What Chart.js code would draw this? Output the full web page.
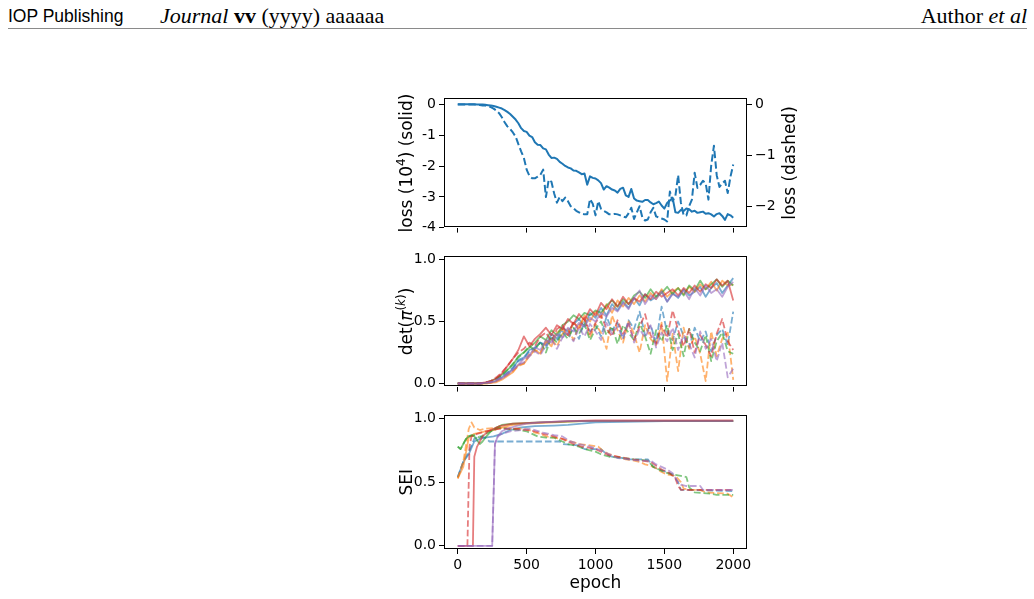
<!DOCTYPE html>
<html>
<head>
<meta charset="utf-8">
<script src="https://cdn.jsdelivr.net/npm/chart.js@4.4.0/dist/chart.umd.min.js"></script>
<style>
  body { margin: 0; width: 1034px; height: 599px; overflow: hidden; background: #fff; position: relative; }
  .hdr { position: absolute; top: 3px; line-height: 26px; white-space: nowrap; color: #000; }
  #h1 { left: 8px; font-family: "Liberation Sans", Arial, sans-serif; font-size: 17.5px; }
  #h2 { left: 160px; font-family: "Liberation Serif", serif; font-size: 22px; }
  #h3 { right: 7px; font-family: "Liberation Serif", serif; font-size: 22px; }
  #rule { position: absolute; left: 8px; right: 7px; top: 28px; height: 1px; background: #8a8a8a; }
  canvas { position: absolute; left: 0; }
</style>
</head>
<body>
<div class="hdr" id="h1">IOP Publishing</div>
<div class="hdr" id="h2"><i>Journal</i> <b>vv</b> (yyyy) aaaaaa</div>
<div class="hdr" id="h3">Author <i>et al</i></div>
<div id="rule"></div>
<canvas id="lossChart" width="1034" height="152" style="top:87px"></canvas>
<canvas id="detChart" width="1034" height="153" style="top:245px"></canvas>
<canvas id="seiChart" width="1034" height="193" style="top:404px"></canvas>
<script>
// tick labels
var epochTicks = [0, 500, 1000, 1500, 2000];
var lossSolidTicks = [0, -1, -2, -3, -4];
var lossDashedTicks = [0, -1, -2];
var unitTicks = [0, 0.5, 1.0];

// top panel: loss, every 20 epochs
var lossEpochs = [];
for (var e = 0; e <= 2000; e += 20) lossEpochs.push(e);

var lossSolid = [0.02, 0.02, 0.02, 0.02, 0.02, 0.02, 0.02, 0.01, 0.01, 0.01,
  0.0, -0.01, -0.02, -0.04, -0.06, -0.09, -0.12, -0.17, -0.23, -0.30,
  -0.39, -0.48, -0.60, -0.76, -0.85, -0.88, -1.0, -1.05, -1.22, -1.30,
  -1.31, -1.42, -1.45, -1.62, -1.73, -1.72, -1.76, -1.86, -1.92, -1.99,
  -2.04, -2.07, -2.14, -2.15, -2.20, -2.26, -2.24, -2.60, -2.33, -2.38,
  -2.40, -2.46, -2.55, -2.76, -2.65, -2.70, -2.76, -2.79, -2.86, -2.74,
  -2.70, -2.95, -3.0, -2.74, -3.05, -3.12, -3.14, -3.16, -3.10, -3.10,
  -3.18, -3.24, -3.20, -3.15, -3.28, -3.38, -3.20, -3.12, -3.03, -3.50,
  -3.52, -3.42, -3.46, -3.38, -3.40, -3.48, -3.45, -3.52, -3.50, -3.48,
  -3.55, -3.53, -3.57, -3.64, -3.56, -3.53, -3.62, -3.75, -3.56, -3.60, -3.68];

var lossDashed = [0.0, 0.0, 0.0, 0.0, 0.0, 0.0, 0.0, -0.01, -0.01, -0.02,
  -0.02, -0.03, -0.05, -0.08, -0.12, -0.17, -0.25, -0.35, -0.43, -0.48,
  -0.55, -0.63, -0.78, -0.92, -1.05, -1.28, -1.40, -1.45, -1.45, -1.42,
  -1.38, -1.28, -1.82, -1.48, -1.52, -1.75, -1.93, -1.82, -1.90, -1.83,
  -1.90, -2.0, -2.04, -2.09, -2.12, -2.15, -2.16, -2.16, -1.86, -1.95,
  -2.18, -1.90, -2.05, -2.09, -2.12, -2.16, -2.16, -2.15, -2.16, -2.18,
  -2.20, -2.22, -2.14, -2.03, -2.25, -2.12, -2.0, -2.22, -2.28, -2.26,
  -2.12, -2.03, -2.20, -2.22, -2.24, -2.26, -2.30, -1.71, -1.90, -1.80,
  -1.39, -1.93, -2.18, -2.18, -2.0, -1.87, -1.34, -1.64, -1.58, -1.50,
  -1.55, -1.87, -1.20, -0.81, -1.39, -1.62, -1.55, -1.50, -1.74, -1.42, -1.18];

// middle panel: det, every 40 epochs
var detEpochs = [];
for (var e2 = 0; e2 <= 2000; e2 += 40) detEpochs.push(e2);

var detSolid = [
  [0, 0, 0, 0, 0, 0.005, 0.01, 0.02, 0.05, 0.08, 0.12, 0.19, 0.21, 0.27, 0.29, 0.33, 0.31, 0.40, 0.36, 0.45,
   0.42, 0.48, 0.52, 0.46, 0.57, 0.53, 0.61, 0.55, 0.64, 0.59, 0.66, 0.61, 0.69, 0.63, 0.72, 0.67, 0.70, 0.75,
   0.66, 0.73, 0.69, 0.76, 0.71, 0.74, 0.78, 0.70, 0.77, 0.81, 0.73, 0.79, 0.85],
  [0, 0, 0, 0, 0, 0, 0.005, 0.01, 0.03, 0.06, 0.09, 0.15, 0.16, 0.22, 0.27, 0.24, 0.35, 0.30, 0.41, 0.44,
   0.39, 0.49, 0.45, 0.55, 0.50, 0.58, 0.53, 0.64, 0.57, 0.67, 0.62, 0.69, 0.64, 0.71, 0.66, 0.73, 0.68, 0.76,
   0.70, 0.74, 0.77, 0.72, 0.78, 0.74, 0.80, 0.76, 0.82, 0.75, 0.83, 0.79, 0.80],
  [0, 0, 0, 0, 0, 0.005, 0.02, 0.04, 0.07, 0.11, 0.15, 0.22, 0.25, 0.29, 0.33, 0.38, 0.35, 0.43, 0.39, 0.47,
   0.50, 0.55, 0.52, 0.57, 0.55, 0.59, 0.57, 0.63, 0.67, 0.62, 0.68, 0.64, 0.71, 0.74, 0.69, 0.76, 0.70, 0.73,
   0.78, 0.72, 0.77, 0.71, 0.79, 0.75, 0.83, 0.76, 0.80, 0.84, 0.78, 0.83, 0.79],
  [0, 0, 0, 0, 0, 0.01, 0.02, 0.04, 0.08, 0.14, 0.20, 0.27, 0.38, 0.30, 0.36, 0.40, 0.45, 0.39, 0.47, 0.44,
   0.52, 0.48, 0.56, 0.51, 0.60, 0.55, 0.65, 0.60, 0.68, 0.62, 0.70, 0.64, 0.69, 0.66, 0.72, 0.68, 0.74, 0.70,
   0.73, 0.76, 0.71, 0.77, 0.73, 0.79, 0.74, 0.80, 0.77, 0.84, 0.79, 0.83, 0.67],
  [0, 0, 0, 0, 0, 0.005, 0.01, 0.02, 0.04, 0.07, 0.11, 0.15, 0.20, 0.23, 0.29, 0.27, 0.35, 0.33, 0.40, 0.37,
   0.45, 0.42, 0.49, 0.46, 0.53, 0.50, 0.57, 0.54, 0.61, 0.58, 0.65, 0.60, 0.69, 0.75, 0.64, 0.71, 0.68, 0.74,
   0.66, 0.72, 0.70, 0.75, 0.68, 0.77, 0.71, 0.79, 0.73, 0.76, 0.70, 0.78, 0.82]
];
var detDashed = [
  [0, 0, 0, 0, 0, 0.005, 0.01, 0.03, 0.06, 0.09, 0.13, 0.18, 0.20, 0.26, 0.28, 0.33, 0.29, 0.37, 0.34, 0.42,
   0.38, 0.45, 0.36, 0.50, 0.42, 0.47, 0.38, 0.54, 0.43, 0.49, 0.36, 0.51, 0.44, 0.58, 0.39, 0.47, 0.33, 0.62,
   0.41, 0.35, 0.50, 0.38, 0.29, 0.45, 0.34, 0.42, 0.26, 0.39, 0.44, 0.31, 0.58],
  [0, 0, 0, 0, 0, 0, 0.005, 0.02, 0.04, 0.07, 0.10, 0.14, 0.16, 0.24, 0.27, 0.25, 0.33, 0.36, 0.30, 0.40,
   0.44, 0.35, 0.47, 0.52, 0.37, 0.48, 0.41, 0.28, 0.55, 0.43, 0.33, 0.50, 0.40, 0.25, 0.47, 0.36, 0.31, 0.49,
   0.02, 0.40, 0.10, 0.45, 0.28, 0.38, 0.24, 0.02, 0.42, 0.22, 0.36, 0.41, 0.03],
  [0, 0, 0, 0, 0, 0.005, 0.02, 0.04, 0.07, 0.11, 0.16, 0.21, 0.25, 0.30, 0.27, 0.34, 0.25, 0.38, 0.33, 0.41,
   0.36, 0.45, 0.40, 0.48, 0.35, 0.44, 0.50, 0.39, 0.46, 0.32, 0.47, 0.41, 0.35, 0.49, 0.38, 0.24, 0.43, 0.34,
   0.47, 0.27, 0.40, 0.22, 0.44, 0.33, 0.26, 0.39, 0.18, 0.34, 0.41, 0.26, 0.24],
  [0, 0, 0, 0, 0, 0.01, 0.02, 0.05, 0.09, 0.14, 0.20, 0.25, 0.28, 0.33, 0.30, 0.38, 0.41, 0.34, 0.44, 0.47,
   0.39, 0.50, 0.43, 0.53, 0.40, 0.49, 0.55, 0.44, 0.38, 0.51, 0.40, 0.48, 0.35, 0.46, 0.56, 0.39, 0.32, 0.47,
   0.37, 0.59, 0.43, 0.30, 0.44, 0.25, 0.39, 0.31, 0.22, 0.40, 0.52, 0.34, 0.27],
  [0, 0, 0, 0, 0, 0.005, 0.01, 0.03, 0.05, 0.08, 0.11, 0.15, 0.17, 0.22, 0.26, 0.23, 0.31, 0.36, 0.28, 0.37,
   0.41, 0.34, 0.45, 0.38, 0.48, 0.42, 0.35, 0.49, 0.40, 0.46, 0.36, 0.50, 0.33, 0.44, 0.37, 0.47, 0.29, 0.41,
   0.34, 0.45, 0.27, 0.39, 0.32, 0.21, 0.42, 0.28, 0.36, 0.18, 0.33, 0.05, 0.12]
];

// bottom panel: SEI, [epoch, value] corners of each curve
var seiSolid = [
  [[0, 0.54], [40, 0.66], [80, 0.72], [120, 0.82], [160, 0.84], [200, 0.85], [260, 0.86], [320, 0.88], [380, 0.91],
   [460, 0.93], [560, 0.94], [700, 0.945], [800, 0.95], [900, 0.96], [1000, 0.97], [1200, 0.975], [1500, 0.98], [2000, 0.98]],
  [[0, 0.53], [40, 0.62], [80, 0.85], [120, 0.88], [160, 0.89], [200, 0.90], [260, 0.91], [320, 0.93], [400, 0.95],
   [500, 0.96], [700, 0.97], [900, 0.98], [2000, 0.98]],
  [[0, 0.78], [20, 0.76], [40, 0.80], [60, 0.84], [80, 0.86], [100, 0.87], [120, 0.86], [140, 0.83], [160, 0.80],
   [180, 0.82], [200, 0.85], [240, 0.90], [280, 0.93], [320, 0.95], [400, 0.96], [600, 0.97], [900, 0.98], [2000, 0.98]],
  [[0, 0], [110, 0], [120, 0.70], [140, 0.78], [160, 0.82], [180, 0.86], [220, 0.90], [260, 0.92], [300, 0.94],
   [400, 0.96], [600, 0.97], [800, 0.98], [1000, 0.985], [2000, 0.985]],
  [[0, 0], [250, 0], [270, 0.80], [290, 0.86], [320, 0.90], [360, 0.92], [420, 0.94], [500, 0.96], [600, 0.97],
   [800, 0.98], [2000, 0.98]]
];
var seiDashed = [
  [[0, 0.54], [40, 0.66], [80, 0.74], [120, 0.84], [160, 0.86], [200, 0.85], [230, 0.82], [740, 0.82], [760, 0.80],
   [880, 0.79], [920, 0.76], [1040, 0.76], [1080, 0.72], [1120, 0.70], [1200, 0.69], [1240, 0.68], [1380, 0.68],
   [1420, 0.62], [1460, 0.60], [1520, 0.58], [1560, 0.56], [1600, 0.50], [1620, 0.44], [2000, 0.43]],
  [[0, 0.53], [40, 0.66], [80, 0.92], [100, 0.97], [120, 0.93], [160, 0.91], [200, 0.92], [300, 0.93], [400, 0.92],
   [480, 0.92], [520, 0.91], [560, 0.89], [600, 0.88], [640, 0.86], [700, 0.85], [760, 0.84], [820, 0.82], [880, 0.80],
   [960, 0.79], [1020, 0.78], [1060, 0.74], [1100, 0.72], [1160, 0.70], [1220, 0.68], [1280, 0.67], [1320, 0.66],
   [1360, 0.64], [1400, 0.63], [1440, 0.61], [1480, 0.58], [1520, 0.56], [1580, 0.55], [1620, 0.50], [1640, 0.45],
   [1680, 0.44], [1760, 0.44], [1800, 0.42], [1960, 0.41], [2000, 0.38]],
  [[0, 0.78], [20, 0.76], [40, 0.80], [60, 0.84], [80, 0.86], [120, 0.87], [160, 0.85], [200, 0.88], [260, 0.91],
   [300, 0.93], [360, 0.92], [440, 0.91], [500, 0.90], [540, 0.88], [580, 0.86], [640, 0.85], [700, 0.85], [760, 0.82],
   [800, 0.80], [880, 0.78], [920, 0.76], [1000, 0.74], [1040, 0.72], [1100, 0.70], [1200, 0.69], [1280, 0.68],
   [1380, 0.67], [1420, 0.62], [1460, 0.60], [1500, 0.58], [1560, 0.56], [1620, 0.55], [1660, 0.54], [1680, 0.46],
   [1720, 0.42], [1840, 0.41], [1880, 0.40], [2000, 0.40]],
  [[0, 0], [70, 0], [85, 0.78], [100, 0.86], [140, 0.88], [200, 0.90], [300, 0.92], [420, 0.92], [500, 0.91],
   [560, 0.90], [620, 0.88], [700, 0.86], [760, 0.84], [840, 0.80], [900, 0.78], [960, 0.77], [1000, 0.76],
   [1060, 0.73], [1100, 0.71], [1160, 0.70], [1220, 0.69], [1260, 0.68], [1340, 0.67], [1400, 0.66], [1440, 0.63],
   [1480, 0.60], [1540, 0.57], [1580, 0.53], [1600, 0.47], [1620, 0.44], [2000, 0.44]],
  [[0, 0], [250, 0], [270, 0.80], [290, 0.86], [320, 0.88], [380, 0.90], [460, 0.91], [520, 0.92], [560, 0.91],
   [620, 0.89], [700, 0.87], [760, 0.86], [820, 0.82], [880, 0.80], [960, 0.78], [1040, 0.75], [1100, 0.72],
   [1160, 0.69], [1240, 0.68], [1320, 0.67], [1400, 0.67], [1440, 0.64], [1480, 0.62], [1520, 0.60], [1560, 0.57],
   [1600, 0.50], [1620, 0.48], [1660, 0.47], [1760, 0.47], [1780, 0.44], [2000, 0.44]]
];

var tab = ['31,119,180', '255,127,14', '44,160,44', '214,39,40', '148,103,189'];
var tickFont = { family: 'DejaVu Sans', size: 14 };

function zip(xs, ys) {
  return xs.map(function(x, i) { return { x: x, y: ys[i] }; });
}
function pairs(p) {
  return p.map(function(d) { return { x: d[0], y: d[1] }; });
}
function setTicks(vals) {
  return function(s) { s.ticks = vals.map(function(v) { return { value: v }; }); };
}
function fixWidth(w) { return function(s) { s.width = w; }; }
function fixHeight(h) { return function(s) { s.height = h; }; }

var grid = { drawOnChartArea: false, drawTicks: true, tickLength: 5, color: '#000', lineWidth: 1 };

// matplotlib-like frame around the axes
var boxPlugin = {
  id: 'box',
  afterDraw: function(chart) {
    var a = chart.chartArea, ctx = chart.ctx;
    ctx.save();
    ctx.strokeStyle = '#000';
    ctx.lineWidth = 1;
    ctx.strokeRect(Math.round(a.left) + 0.5, Math.round(a.top) + 0.5,
      Math.round(a.right - a.left) - 1, Math.round(a.bottom - a.top) - 1);
    ctx.restore();
  }
};

// rotated y labels (both sides read bottom to top), with superscripts
function sideLabels(items) {
  return {
    id: 'sideLabels',
    afterDraw: function(chart) {
      var a = chart.chartArea, ctx = chart.ctx;
      items.forEach(function(it) {
        var cx = it.side === 'left' ? a.left - it.gap : a.right + it.gap;
        var cy = (a.top + a.bottom) / 2;
        var total = 0;
        it.parts.forEach(function(p) {
          ctx.font = (p.it ? 'italic ' : '') + (p.sup ? 12 : 17) + 'px "DejaVu Sans"';
          p.w = ctx.measureText(p.t).width;
          total += p.w;
        });
        ctx.save();
        ctx.translate(cx, cy);
        ctx.rotate(-Math.PI / 2);
        ctx.fillStyle = '#000';
        ctx.textBaseline = 'middle';
        var x = -total / 2;
        it.parts.forEach(function(p) {
          ctx.font = (p.it ? 'italic ' : '') + (p.sup ? 12 : 17) + 'px "DejaVu Sans"';
          ctx.fillText(p.t, x, p.sup ? -6 : 0);
          x += p.w;
        });
        ctx.restore();
      });
    }
  };
}

function xAxis(showLabels, height) {
  return {
    type: 'linear', min: -100, max: 2100,
    afterBuildTicks: setTicks(epochTicks),
    afterFit: fixHeight(height),
    ticks: { display: showLabels, font: tickFont, color: '#000', padding: 3,
      callback: function(v) { return String(v); } },
    title: { display: showLabels, text: 'epoch', color: '#000',
      font: { family: 'DejaVu Sans', size: 17 }, padding: { top: 4, bottom: 3 } },
    grid: grid, border: { display: false }
  };
}
function yAxis(pos, min, max, vals, width, fmt) {
  return {
    type: 'linear', position: pos, min: min, max: max,
    afterBuildTicks: setTicks(vals),
    afterFit: fixWidth(width),
    ticks: { font: tickFont, color: '#000', padding: 3, callback: fmt },
    grid: grid, border: { display: false }
  };
}
function lineSet(points, rgb, alpha, width, dashed, axis) {
  return {
    data: points, yAxisID: axis || 'y',
    borderColor: 'rgba(' + rgb + ',' + alpha + ')',
    borderWidth: width,
    borderDash: dashed ? [width * 3.7, width * 1.6] : [],
    borderJoinStyle: 'round', borderCapStyle: 'butt',
    pointRadius: 0, tension: 0, fill: false
  };
}
function baseOptions(padding, scales) {
  return {
    responsive: false, animation: false, devicePixelRatio: 1,
    layout: { padding: padding },
    plugins: { legend: { display: false }, tooltip: { enabled: false } },
    scales: scales
  };
}

// loss panel
new Chart(document.getElementById('lossChart'), {
  type: 'line',
  data: { datasets: [
    lineSet(zip(lossEpochs, lossDashed), tab[0], 1, 2, true, 'y2'),
    lineSet(zip(lossEpochs, lossSolid), tab[0], 1, 2, false, 'y')
  ] },
  options: baseOptions({ left: 394, right: 247, top: 10, bottom: 2 }, {
    x: xAxis(false, 6),
    y: yAxis('left', -4, 0.21, lossSolidTicks, 50, function(v) { return String(v); }),
    y2: yAxis('right', -2.42, 0.12, lossDashedTicks, 40,
      function(v) { return v < 0 ? '\u2212' + Math.abs(v) : String(v); })
  }),
  plugins: [boxPlugin, sideLabels([
    { side: 'left', gap: 36, parts: [{ t: 'loss (10' }, { t: '4', sup: true }, { t: ') (solid)' }] },
    { side: 'right', gap: 44, parts: [{ t: 'loss (dashed)' }] }
  ])]
});

// det panel (Chart.js paints dataset 0 last, so reverse to keep later curves on top)
var detSets = [];
for (var k = 0; k < 5; k++) {
  detSets.push(lineSet(zip(detEpochs, detSolid[k]), tab[k], 0.6, 1.8, false));
  detSets.push(lineSet(zip(detEpochs, detDashed[k]), tab[k], 0.6, 1.8, true));
}
new Chart(document.getElementById('detChart'), {
  type: 'line',
  data: { datasets: detSets.reverse() },
  options: baseOptions({ left: 394, right: 287, top: 10, bottom: 2 }, {
    x: xAxis(false, 6),
    y: yAxis('left', -0.025, 1.025, unitTicks, 50, function(v) { return v.toFixed(1); })
  }),
  plugins: [boxPlugin, sideLabels([
    { side: 'left', gap: 36, parts: [{ t: 'det(' }, { t: '\u03c0', it: true }, { t: '(', sup: true },
      { t: 'k', sup: true, it: true }, { t: ')', sup: true }, { t: ')' }] }
  ])]
});

// SEI panel
var seiSets = [];
for (var j = 0; j < 5; j++) {
  seiSets.push(lineSet(pairs(seiSolid[j]), tab[j], 0.6, 1.8, false));
  seiSets.push(lineSet(pairs(seiDashed[j]), tab[j], 0.6, 1.8, true));
}
new Chart(document.getElementById('seiChart'), {
  type: 'line',
  data: { datasets: seiSets.reverse() },
  options: baseOptions({ left: 394, right: 287, top: 10, bottom: 0 }, {
    x: xAxis(true, 48),
    y: yAxis('left', -0.025, 1.025, unitTicks, 50, function(v) { return v.toFixed(1); })
  }),
  plugins: [boxPlugin, sideLabels([
    { side: 'left', gap: 36, parts: [{ t: 'SEI' }] }
  ])]
});
</script>
</body>
</html>
